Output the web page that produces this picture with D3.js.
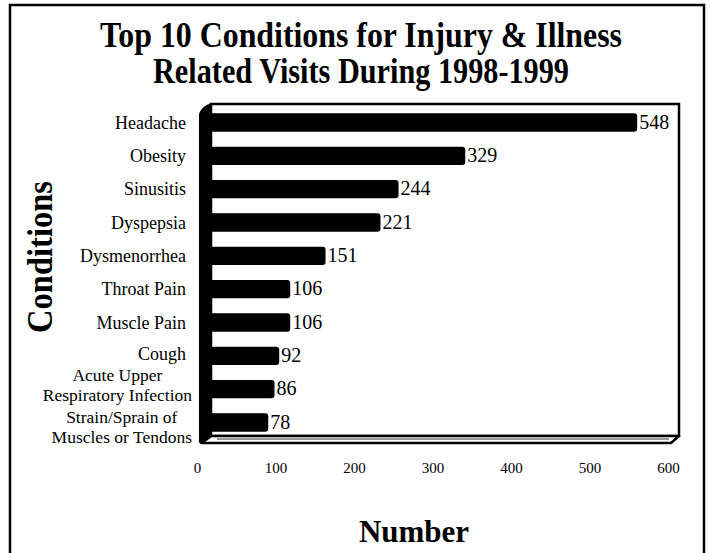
<!DOCTYPE html>
<html><head><meta charset="utf-8">
<script src="https://cdn.jsdelivr.net/npm/d3@7"></script>
<style>body{margin:0;background:#fff} svg{display:block}</style>
</head><body>
<svg id="c" width="711" height="553"></svg>
<script>
const categories = ["Headache","Obesity","Sinusitis","Dyspepsia","Dysmenorrhea","Throat Pain","Muscle Pain","Cough","Acute Upper\nRespiratory Infection","Strain/Sprain of\nMuscles or Tendons"];
const values = [548,329,244,221,151,106,106,92,86,78];
const xTicks = [0,100,200,300,400,500,600];
const titleLines = ["Top 10 Conditions for Injury & Illness","Related Visits During 1998-1999"];
const yTitle = "Conditions";
const xTitle = "Number";

const svg = d3.select("#c");
const serif = "'Liberation Serif','Times New Roman',Times,serif";

// outer frame
svg.append("rect").attr("x",10).attr("y",5).attr("width",694).attr("height",600)
  .attr("fill","none").attr("stroke","#000").attr("stroke-width",2.5);

// title
svg.append("g").selectAll("text").data(titleLines).join("text")
  .attr("x",361).attr("y",(d,i)=>47+i*36)
  .attr("text-anchor","middle").attr("font-family",serif).attr("font-weight","bold")
  .attr("font-size",35).attr("textLength",(d,i)=>i===0?522:416).attr("lengthAdjust","spacingAndGlyphs")
  .text(d=>d);

const x = d3.scaleLinear().domain([0,600]).range([207,678]);
const y = d3.scaleBand().domain(categories).range([106,439]).paddingInner(0.45).paddingOuter(0.22);

const backL = 211, backR = x(600)+1, backT = 104, backB = 436;
const frontL = 199, frontB = 443;

// back wall
svg.append("rect").attr("x",backL).attr("y",backT).attr("width",backR-backL).attr("height",backB-backT)
  .attr("fill","#fff").attr("stroke","#000").attr("stroke-width",2.5);
// floor
svg.append("path").attr("d",`M${backL},${backB}L${backR},${backB}L${backR-8},${frontB}L${frontL+3},${frontB}Z`)
  .attr("fill","#fff").attr("stroke","#000").attr("stroke-width",2.5).attr("stroke-linejoin","round");
svg.append("line").attr("x1",backL+6).attr("x2",backR-10).attr("y1",backB+3).attr("y2",backB+3)
  .attr("stroke","#000").attr("stroke-width",0.8);
// left wall
svg.append("path").attr("d",`M${frontL},${backT+10}Q${frontL+2},${backT+2} ${backL+1},${backT-1}L${backL+1},${backB}L${frontL+2},${frontB+1}Q${frontL-1},${frontB} ${frontL},${frontB-4}Z`)
  .attr("fill","#000");

// bars
svg.append("g").selectAll("rect").data(values).join("rect")
  .attr("x",frontL).attr("y",(d,i)=>y(categories[i]))
  .attr("width",d=>x(d)-frontL).attr("height",y.bandwidth())
  .attr("rx",3).attr("fill","#000");

// value labels
svg.append("g").selectAll("text").data(values).join("text")
  .attr("x",d=>x(d)+2).attr("y",(d,i)=>y(categories[i])+y.bandwidth()/2+6)
  .attr("font-family",serif).attr("font-size",20).text(d=>d);

// category labels
const labelG = svg.append("g").attr("font-family",serif).attr("font-size",18);
const nudge = {"Cough":[4],"Acute Upper\nRespiratory Infection":[-8,12],"Strain/Sprain of\nMuscles or Tendons":[0,20]};
categories.forEach(c=>{
  const lines = c.split("\n");
  const cy = y(c)+y.bandwidth()/2;
  if(lines.length===1){
    labelG.append("text").attr("x",186).attr("y",cy+(nudge[c]?nudge[c][0]:6)).attr("text-anchor","end").text(c);
  } else {
    const ts = lines.map((l,j)=>labelG.append("text").attr("y",cy+nudge[c][j]).attr("font-size",17.5).text(l));
    const w = Math.max(...ts.map(t=>t.node().getComputedTextLength()));
    ts.forEach(t=>t.attr("x",192-w/2).attr("text-anchor","middle"));
  }
});

// x axis tick labels (front plane)
const axis = d3.axisBottom(x).tickValues(xTicks).tickSize(0).tickPadding(0);
const ag = svg.append("g").attr("transform","translate(-10,462)").call(axis);
ag.select(".domain").remove();
ag.selectAll("text").attr("font-family",serif).attr("font-size",15).attr("fill","#000");

// axis titles
svg.append("text").attr("transform","translate(52,257) rotate(-90)").attr("text-anchor","middle")
  .attr("font-family",serif).attr("font-weight","bold").attr("font-size",36)
  .attr("textLength",152).attr("lengthAdjust","spacingAndGlyphs").text(yTitle);
svg.append("text").attr("x",414).attr("y",542).attr("text-anchor","middle")
  .attr("font-family",serif).attr("font-weight","bold").attr("font-size",31).text(xTitle);
</script>
</body></html>
